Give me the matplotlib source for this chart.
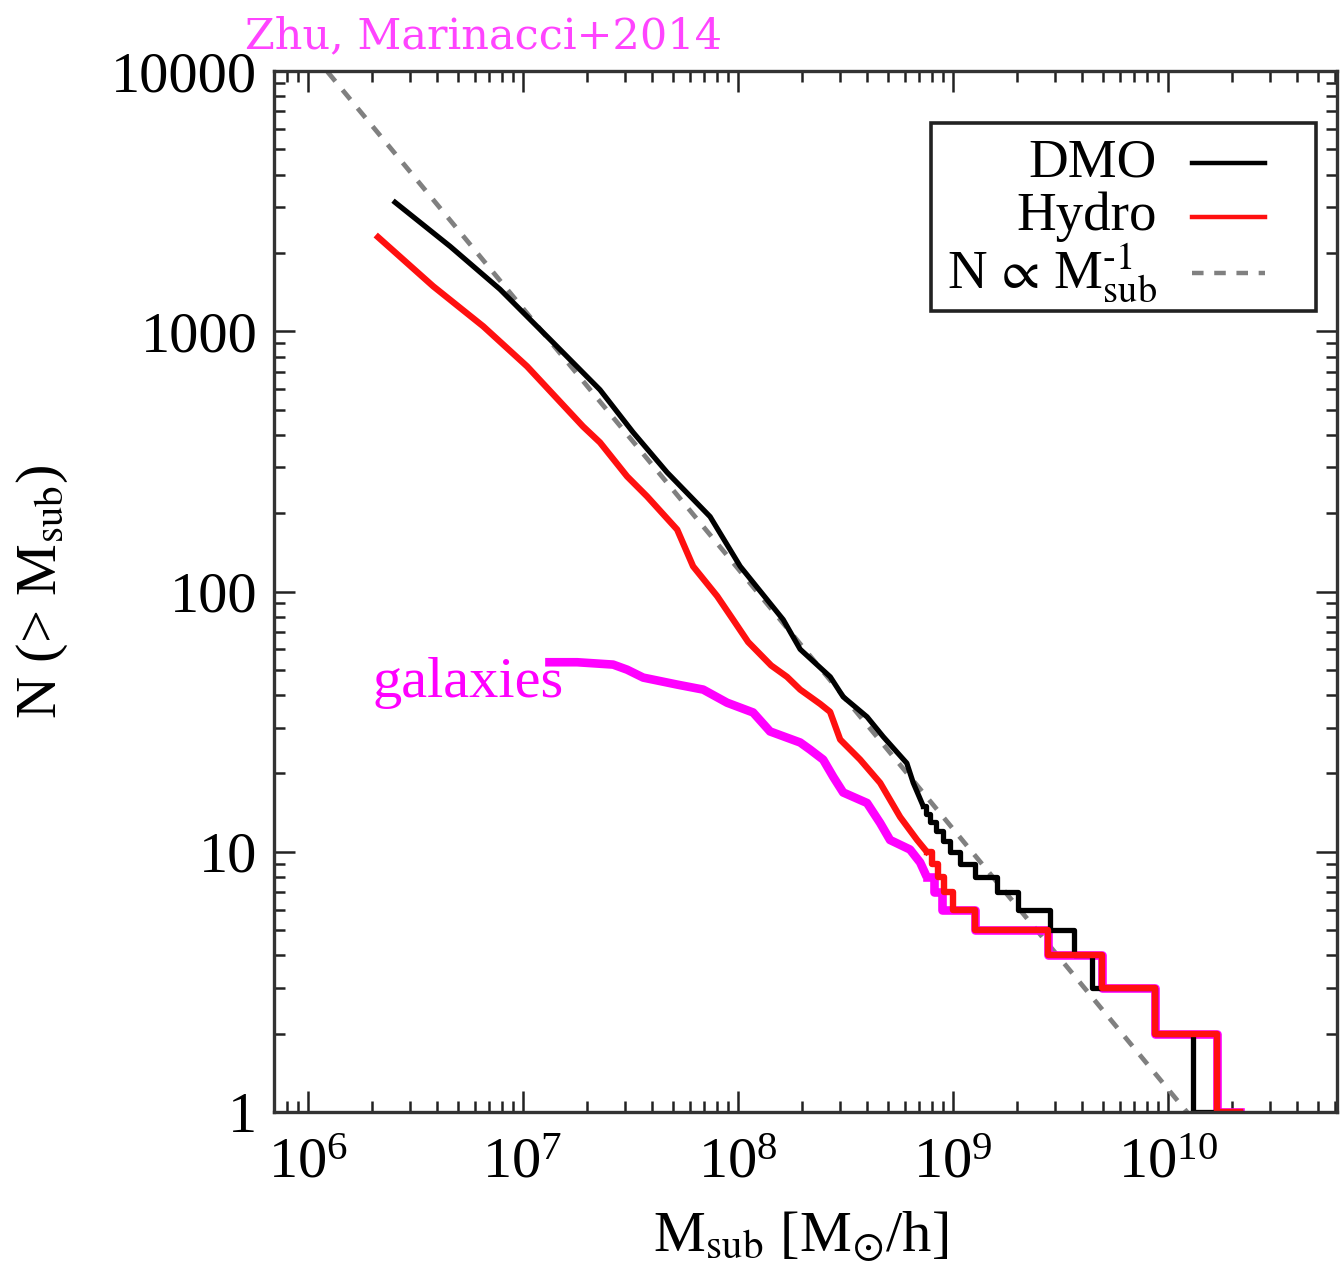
import numpy as np
import matplotlib
matplotlib.use("Agg")
import matplotlib.pyplot as plt
from matplotlib.ticker import LogLocator, FuncFormatter, NullFormatter
from matplotlib.patches import Rectangle
from matplotlib.lines import Line2D

plt.rcParams['font.family'] = ['Liberation Serif', 'DejaVu Serif']
plt.rcParams['mathtext.fontset'] = 'stix'

# log10(M_sub) and N(>M_sub)
# smooth part of each curve, then the integer steps at the massive end
dmo_logm = [6.407, 6.663, 6.895, 7.128, 7.360, 7.514, 7.672, 7.872, 8.012, 8.212,
            8.291, 8.431, 8.491, 8.602, 8.677, 8.787, 8.817, 8.863]
dmo_n = [3130, 2120, 1450, 930, 596, 409, 287, 194, 125, 78,
         60, 47, 39.4, 33, 27.7, 21.9, 18.4, 15]
dmo_step_logm = [8.863, 8.875, 8.895, 8.925, 8.956, 8.988, 9.035, 9.105, 9.207, 9.305,
                 9.453, 9.565, 9.649, 9.942, 10.119, 10.337]
dmo_step_n = [15, 14, 13, 12, 11, 10, 9, 8, 7, 6, 5, 4, 3, 2, 1, 1]

hydro_logm = [6.328, 6.584, 6.817, 7.021, 7.281, 7.360, 7.486, 7.579, 7.719, 7.793,
              7.905, 7.979, 8.049, 8.156, 8.230, 8.291, 8.384, 8.430, 8.477, 8.570,
              8.663, 8.756, 8.835, 8.880]
hydro_n = [2300, 1490, 1045, 733, 431, 374, 277, 232, 173, 125,
           96, 78, 64, 52, 47, 42, 37, 34.5, 27, 22.6,
           18.4, 13.6, 11.1, 10]
hydro_step_logm = [8.880, 8.905, 8.930, 8.960, 9.003, 9.105, 9.444, 9.695, 9.942, 10.230, 10.337]
hydro_step_n = [10, 9, 8, 7, 6, 5, 4, 3, 2, 1, 1]

gal_logm = [7.105, 7.254, 7.421, 7.486, 7.561, 7.719, 7.840, 7.951, 8.072, 8.151,
            8.291, 8.337, 8.398, 8.445, 8.491, 8.602, 8.663, 8.709, 8.802, 8.849, 8.880]
gal_n = [53.5, 53.5, 52.4, 50.1, 46.7, 43.9, 42, 37.4, 34.3, 29,
         26.3, 24.7, 22.6, 19.4, 16.9, 15.4, 12.9, 11.1, 10.2, 9.1, 8]
gal_step_logm = [8.880, 8.915, 8.950, 9.003, 9.105, 9.444, 9.695, 9.942, 10.230, 10.337]
gal_step_n = [8, 7, 6, 6, 5, 4, 3, 2, 1, 1]

# N ∝ M^-1 reference line
pl_norm = 1.23e10
pl_mass = np.array([1e5, 1e11])

fig = plt.figure(figsize=(13.4, 12.69), dpi=100)
ax = fig.add_axes([0.2045, 0.1237, 0.7933, 0.8203])

ax.plot(pl_mass, pl_norm / pl_mass, color='#808080', lw=3.4, dashes=(2.6, 2.4))

mag = '#ff00ff'
ax.plot(10 ** np.array(gal_logm), gal_n, color=mag, lw=6.2, solid_capstyle='butt')
ax.step(10 ** np.array(gal_step_logm), gal_step_n, where='post', color=mag, lw=6.2)

ax.plot(10 ** np.array(dmo_logm), dmo_n, color='black', lw=3.8)
ax.step(10 ** np.array(dmo_step_logm), dmo_step_n, where='post', color='black', lw=3.8)

ax.plot(10 ** np.array(hydro_logm), hydro_n, color='#ff1010', lw=4.6)
ax.step(10 ** np.array(hydro_step_logm), hydro_step_n, where='post', color='#ff1010', lw=4.6)

ax.set_xscale('log')
ax.set_yscale('log')
ax.set_xlim(10 ** 5.844, 10 ** 10.788)
ax.set_ylim(1, 1e4)

ax.xaxis.set_minor_locator(LogLocator(base=10, subs=np.arange(2, 10), numticks=30))
ax.yaxis.set_minor_locator(LogLocator(base=10, subs=np.arange(2, 10), numticks=30))
ax.xaxis.set_minor_formatter(NullFormatter())
ax.yaxis.set_minor_formatter(NullFormatter())
ax.yaxis.set_major_formatter(FuncFormatter(lambda v, p: f'{v:.0f}'))

ax.tick_params(which='both', direction='in', top=True, right=True, width=1.8, color='#222222')
ax.tick_params(which='major', length=15, labelsize=42)
ax.tick_params(which='minor', length=8)
ax.tick_params(axis='x', which='major', pad=18)
ax.tick_params(axis='y', which='major', pad=12)
for s in ax.spines.values():
    s.set_linewidth(2.4)
    s.set_color('#333333')

ax.set_xlabel(r'M$_{\rm sub}$ [M$_{\odot}$/h]', fontsize=42)
ax.xaxis.set_label_coords(0.495, -0.094)
ax.set_ylabel(r'N (> M$_{\rm sub}$)', fontsize=42)
ax.yaxis.set_label_coords(-0.192, 0.5)

# legend, labels right aligned left of the samples
ax.add_patch(Rectangle((0.6178, 0.7697), 0.3624, 0.1806, transform=ax.transAxes,
                       fill=False, lw=2.6, edgecolor='#222222', zorder=5))
leg_labels = ['DMO', 'Hydro', 'N$\\,\\propto\\,$M$^{\\rm \u20101}_{\\rm sub}$']
leg_colors = ['black', '#ff1010', '#808080']
leg_y = [0.9119, 0.8600, 0.8060]
for lab, c, yy in zip(leg_labels, leg_colors, leg_y):
    ax.text(0.8304, yy, lab, transform=ax.transAxes, ha='right', va='center',
            fontsize=39.5, zorder=6)
    ln = Line2D([0.8636, 0.9323], [yy, yy], transform=ax.transAxes, color=c, lw=3.2, zorder=6)
    if c == '#808080':
        ln.set_dashes((2.6, 2.4))
    ax.add_line(ln)

ax.text(0.0931, 0.3987, 'galaxies', transform=ax.transAxes, color=mag,
        fontsize=42, va='baseline', ha='left')

fig.text(0.1828, 0.9622, 'Zhu, Marinacci+2014', color='#ff44ff',
         fontsize=31, family='DejaVu Serif', va='baseline', ha='left')

fig.savefig('out.png', dpi=100)
